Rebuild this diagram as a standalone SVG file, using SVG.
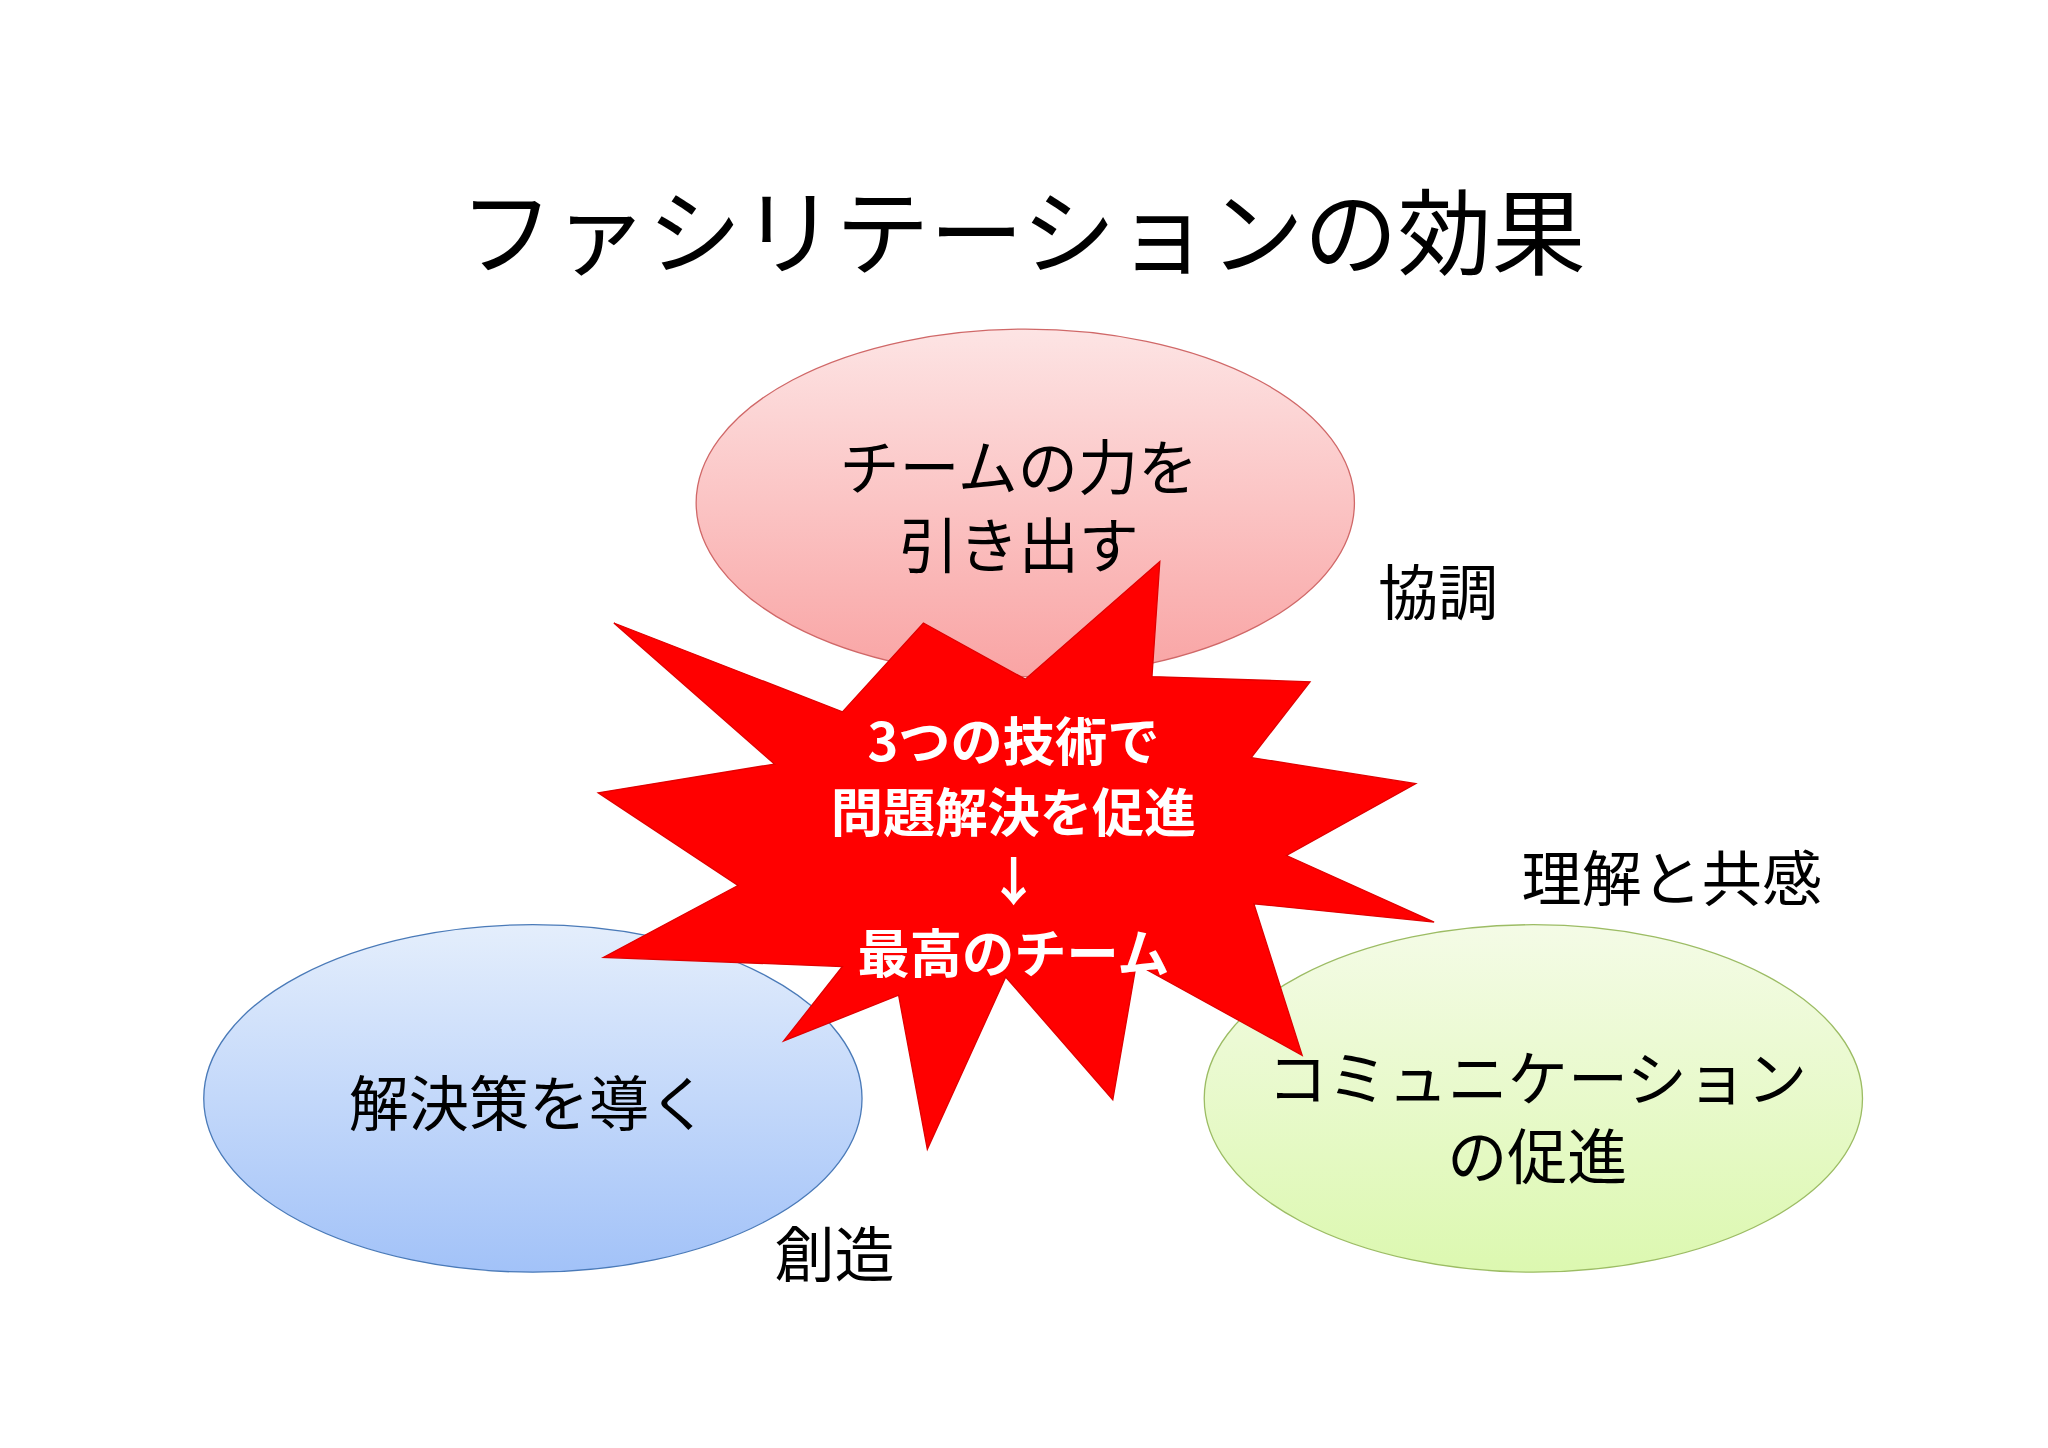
<svg xmlns="http://www.w3.org/2000/svg" width="2048" height="1448" viewBox="0 0 2048 1448">
<defs>
<linearGradient id="gp" x1="0" y1="0" x2="0" y2="1"><stop offset="0" stop-color="#fde4e4"/><stop offset="1" stop-color="#f9a4a4"/></linearGradient>
<linearGradient id="gb" x1="0" y1="0" x2="0" y2="1"><stop offset="0" stop-color="#e4eefc"/><stop offset="1" stop-color="#a2c2f8"/></linearGradient>
<linearGradient id="gg" x1="0" y1="0" x2="0" y2="1"><stop offset="0" stop-color="#f4fbe6"/><stop offset="1" stop-color="#dcf8b0"/></linearGradient>
</defs>
<style>
text{font-family:"Noto Sans CJK JP","Noto Sans",sans-serif;fill:#000;}
.c{text-anchor:middle;font-size:46px;}
.l{font-size:46px;}
.w{fill:#fff;font-weight:bold;font-size:40px;text-anchor:middle;}
</style>
<rect width="2048" height="1448" fill="#fff"/>
<g transform="scale(1.3061)">
<text x="783" y="205" style="font-size:72px;text-anchor:middle">ファシリテーションの効果</text>
<g id="top"><ellipse cx="785" cy="385" rx="252" ry="133" fill="url(#gp)" stroke="#d06868" stroke-width="1"/>
<text class="c" x="780" y="375">チームの力を</text><text class="c" x="780" y="435">引き出す</text></g>
<g id="left"><ellipse cx="408" cy="841" rx="252" ry="133" fill="url(#gb)" stroke="#4a7ab8" stroke-width="1"/>
<text class="c" x="405" y="862">解決策を導く</text></g>
<g id="right"><ellipse cx="1174" cy="841" rx="252" ry="133" fill="url(#gg)" stroke="#9cbc64" stroke-width="1"/>
<text class="c" x="1177" y="843">コミュニケーション</text><text class="c" x="1177" y="903">の促進</text></g>
<text class="l" x="1055" y="471">協調</text>
<text class="l" x="593" y="978">創造</text>
<text class="l" x="1165" y="690">理解と共感</text>
<g id="star"><polygon fill="#ff0000" stroke="#e00000" points="470,477 645,545 707,477 785,520 888,430 882,518 1003,522 958,580 1084,600 985,655 1098,706 960,692 997,808 870,738 852,842 770,748 710,880 688,762 600,797 645,740 462,733 565,678 458,607 593,585"/>
<text class="w" x="776" y="583">3つの技術で</text>
<text class="w" x="776" y="637">問題解決を促進</text>
<text class="w" x="776" y="690">↓</text>
<text class="w" x="776" y="745">最高のチーム</text></g>
</g>
</svg>
